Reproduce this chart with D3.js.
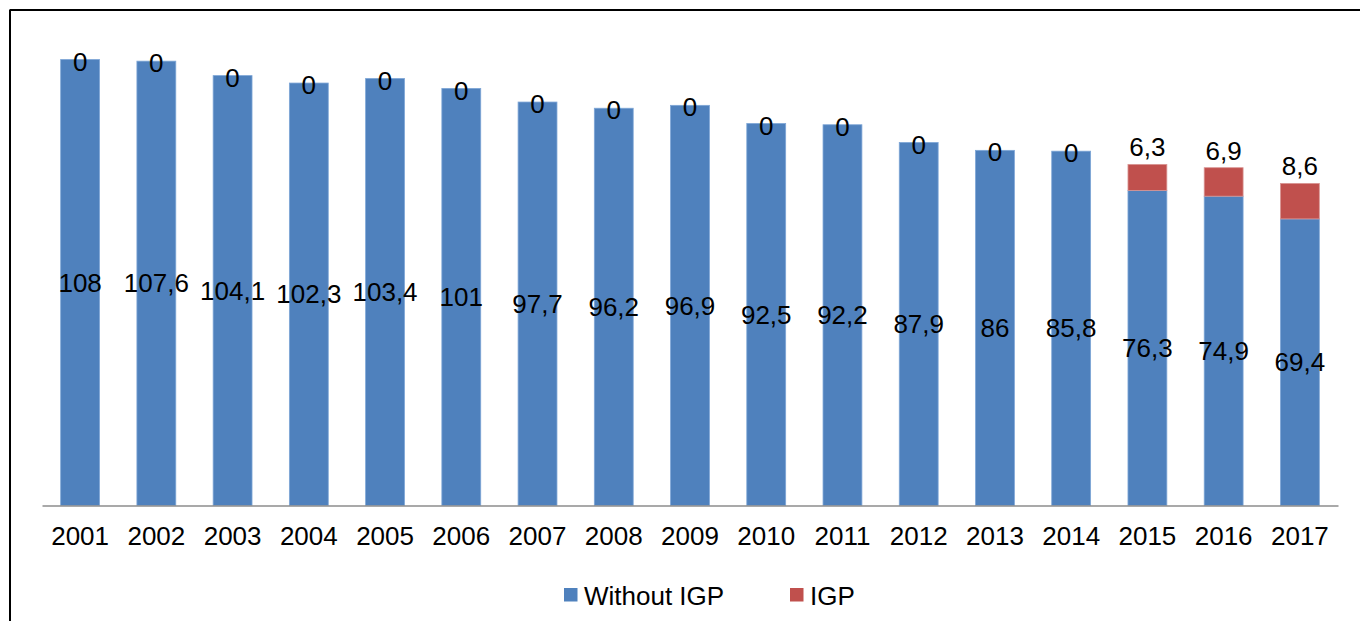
<!DOCTYPE html>
<html><head><meta charset="utf-8">
<script src="https://cdn.jsdelivr.net/npm/d3@7"></script>
<style>body{margin:0;background:#fff}svg{display:block}text{font-family:"Liberation Sans",Arial,sans-serif}</style>
</head><body><svg id="c" width="1360" height="621"></svg>
<script>
const years = ["2001","2002","2003","2004","2005","2006","2007","2008","2009","2010","2011","2012","2013","2014","2015","2016","2017"];
const withoutIGP = [108,107.6,104.1,102.3,103.4,101,97.7,96.2,96.9,92.5,92.2,87.9,86,85.8,76.3,74.9,69.4];
const igp = [0,0,0,0,0,0,0,0,0,0,0,0,0,0,6.3,6.9,8.6];
const seriesNames = ["Without IGP","IGP"];
const colors = ["#4F81BD","#C0504D"];

const FS = 26;
const svg = d3.select("#c");
const fmt = v => String(v).replace(".", ",");
// frame
svg.append("line").attr("x1",9.5).attr("x2",1360).attr("y1",10).attr("y2",10).attr("stroke","#000").attr("stroke-width",2);
svg.append("line").attr("x1",10).attr("x2",10).attr("y1",10).attr("y2",621).attr("stroke","#000").attr("stroke-width",2);

const x = d3.scaleBand().domain(years).range([42,1338]).paddingInner(0.49).paddingOuter(0.245);
const y = d3.scaleLinear().domain([0,108]).range([505.5,59.5]);

const data = years.map((yr,i)=>({year:yr, a:withoutIGP[i], b:igp[i]}));
const g = svg.append("g");
data.forEach(d=>{
  g.append("rect").attr("x",x(d.year)).attr("width",x.bandwidth())
    .attr("y",y(d.a)).attr("height",y(0)-y(d.a)).attr("fill",colors[0]).attr("stroke","#7EA6D6").attr("stroke-width",0.8);
  if(d.b>0) g.append("rect").attr("x",x(d.year)).attr("width",x.bandwidth())
    .attr("y",y(d.a+d.b)).attr("height",y(d.a)-y(d.a+d.b)).attr("fill",colors[1]).attr("stroke","#D99694").attr("stroke-width",0.8);
});
// axis
const ax = svg.append("g").attr("transform","translate(0,505.5)").call(d3.axisBottom(x).tickSize(0).tickPadding(21));
ax.select(".domain").attr("stroke","#8C8C8C").attr("stroke-width",1.5);
ax.selectAll("text").attr("font-size",FS).attr("fill","#000").attr("font-family","Liberation Sans, Arial, sans-serif");

// labels
data.forEach(d=>{
  const cx = x(d.year)+x.bandwidth()/2;
  g.append("text").attr("x",cx).attr("y",(y(d.a)+y(0))/2).attr("dy","0.35em").attr("text-anchor","middle")
    .attr("font-size",FS).text(fmt(d.a));
  const top = y(d.a+d.b);
  g.append("text").attr("x",cx).attr("y", d.b>0 ? top-17 : top+2).attr("dy","0.35em").attr("text-anchor","middle")
    .attr("font-size",FS).text(fmt(d.b));
});

// legend
const leg = [{x:564,label:seriesNames[0],c:colors[0]},{x:790,label:seriesNames[1],c:colors[1]}];
leg.forEach(l=>{
  svg.append("rect").attr("x",l.x).attr("y",588).attr("width",13.5).attr("height",13.5).attr("fill",l.c);
  svg.append("text").attr("x",l.x+20).attr("y",604.5).attr("font-size",FS).text(l.label);
});
</script></body></html>
